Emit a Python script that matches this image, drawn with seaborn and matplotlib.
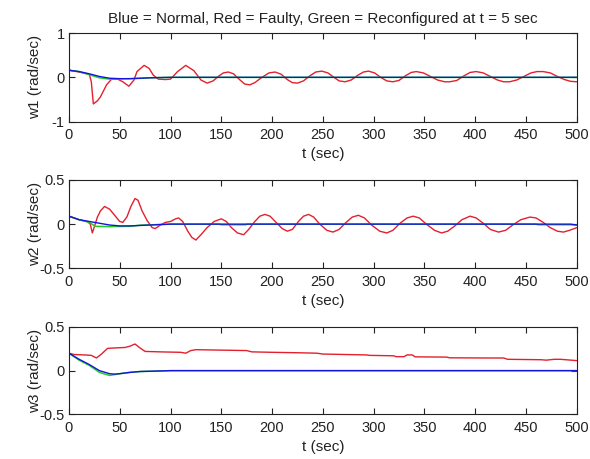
import numpy as np
import pandas as pd
import seaborn as sns
import matplotlib
matplotlib.use('Agg')
import matplotlib.pyplot as plt

# ---- w1 ----
w1_red_t = [0, 10, 20, 22, 24, 28, 31, 37, 42, 48, 53, 59, 64, 67, 74, 79, 83, 88, 95, 100,
            107, 115, 123, 130, 136, 142, 147, 152, 157, 162, 168, 173, 178, 183, 190, 197,
            203, 209, 215, 220, 225, 231, 237, 243, 249, 255, 261, 266, 272, 278, 284, 290,
            295, 301, 307, 313, 319, 325, 331, 337, 342, 349, 356, 363, 370, 375, 382, 388,
            395, 401, 408, 415, 422, 428, 434, 441, 448, 455, 461, 467, 474, 481, 488, 494, 500]
w1_red = [0.16, 0.12, 0.07, -0.1, -0.6, -0.53, -0.44, -0.17, -0.04, -0.04, -0.1, -0.2, -0.06,
          0.13, 0.27, 0.2, 0.05, -0.04, -0.05, -0.04,
          0.13, 0.27, 0.15, -0.06, -0.13, -0.08, 0.02, 0.1, 0.12, 0.08, -0.05, -0.15, -0.17,
          -0.12, 0.0, 0.1, 0.12, 0.07, -0.05, -0.12, -0.13, -0.08, 0.03, 0.12, 0.14, 0.1,
          0.0, -0.08, -0.1, -0.06, 0.04, 0.12, 0.14, 0.1, 0.0, -0.08, -0.1, -0.07, 0.03,
          0.11, 0.13, 0.1, 0.02, -0.06, -0.1, -0.1, -0.07, 0.02, 0.11, 0.13, 0.1, 0.02,
          -0.06, -0.1, -0.1, -0.06, 0.02, 0.1, 0.13, 0.13, 0.1, 0.02, -0.05, -0.09, -0.1]
w1_blue_t = [0, 10, 20, 30, 40, 50, 60, 70, 80, 100, 500]
w1_blue = [0.16, 0.13, 0.08, 0.02, -0.02, -0.03, -0.03, -0.02, -0.01, 0.0, 0.0]
w1_green_t = [0, 10, 20, 30, 40, 50, 60, 73, 80, 100, 500]
w1_green = [0.16, 0.13, 0.06, -0.01, -0.04, -0.035, -0.03, -0.02, -0.01, 0.0, 0.0]

# ---- w2 ----
w2_red_t = [0, 10, 18, 21, 23, 25, 28, 31, 35, 40, 45, 50, 53, 57, 61, 65, 68, 72, 77, 82,
            85, 90, 95, 100, 105, 108, 112, 117, 121, 125, 130, 136, 143, 150, 155, 160,
            166, 172, 177, 183, 188, 193, 198, 204, 210, 215, 220, 226, 231, 236, 241, 247,
            254, 260, 266, 272, 279, 285, 291, 298, 306, 313, 319, 326, 333, 339, 345, 352,
            360, 367, 373, 380, 387, 395, 401, 408, 415, 423, 430, 437, 445, 454, 460, 467,
            474, 481, 487, 493, 500]
w2_red = [0.09, 0.05, 0.03, 0.0, -0.1, -0.03, 0.08, 0.15, 0.2, 0.17, 0.1, 0.03, 0.02, 0.08,
          0.2, 0.29, 0.27, 0.15, 0.04, -0.04, -0.05, -0.01, 0.02, 0.03, 0.06, 0.07, 0.03,
          -0.08, -0.15, -0.18, -0.12, -0.04, 0.03, 0.06, 0.03, -0.04, -0.1, -0.12, -0.06,
          0.03, 0.09, 0.11, 0.09, 0.02, -0.05, -0.08, -0.06, 0.03, 0.09, 0.11, 0.08, 0.0,
          -0.07, -0.09, -0.06, 0.01, 0.08, 0.1, 0.07, -0.01, -0.08, -0.1, -0.07, 0.01,
          0.07, 0.09, 0.07, 0.0, -0.07, -0.1, -0.08, -0.02, 0.05, 0.09, 0.07, 0.01, -0.06,
          -0.09, -0.07, -0.01, 0.05, 0.08, 0.07, 0.02, -0.04, -0.08, -0.09, -0.07, -0.04]
w2_blue_t = [0, 10, 20, 30, 40, 50, 60, 80, 100, 494, 500]
w2_blue = [0.09, 0.05, 0.03, 0.01, -0.01, -0.02, -0.02, -0.01, 0.0, 0.0, -0.01]
w2_green_t = [0, 10, 20, 26, 40, 60, 70, 100, 148, 150, 174, 176, 460, 462, 495, 500]
w2_green = [0.09, 0.05, 0.02, -0.025, -0.028, -0.025, -0.012, 0.0, 0.0, -0.007, -0.007,
            0.0, 0.0, -0.007, -0.007, -0.01]

# ---- w3 ----
w3_red_t = [0, 5, 15, 22, 27, 32, 38, 45, 55, 60, 65, 70, 75, 90, 110, 115, 120, 125, 150,
            175, 180, 200, 225, 244, 250, 293, 296, 320, 322, 330, 333, 338, 341, 372, 375,
            410, 428, 432, 465, 470, 478, 484, 500]
w3_red = [0.2, 0.185, 0.18, 0.175, 0.145, 0.19, 0.255, 0.26, 0.265, 0.28, 0.305, 0.26, 0.22,
          0.215, 0.21, 0.2, 0.23, 0.24, 0.235, 0.23, 0.215, 0.21, 0.205, 0.2, 0.19, 0.18,
          0.175, 0.17, 0.16, 0.16, 0.18, 0.18, 0.158, 0.155, 0.147, 0.145, 0.145, 0.13,
          0.125, 0.12, 0.13, 0.13, 0.115]
w3_blue_t = [0, 10, 20, 30, 40, 45, 50, 60, 70, 85, 100, 500]
w3_blue = [0.2, 0.13, 0.07, 0.0, -0.035, -0.04, -0.035, -0.02, -0.01, -0.005, 0.0, 0.0]
w3_green_t = [0, 10, 20, 30, 40, 45, 50, 60, 70, 88, 100, 500]
w3_green = [0.2, 0.12, 0.06, -0.02, -0.055, -0.045, -0.035, -0.02, -0.01, -0.005, 0.0, 0.0]

x_ticks = [0, 50, 100, 150, 200, 250, 300, 350, 400, 450, 500]
panels = [
    ('w1 (rad/sec)', (-1, 1), [-1, 0, 1], ['-1', '0', '1'],
     (w1_red_t, w1_red), (w1_green_t, w1_green), (w1_blue_t, w1_blue)),
    ('w2 (rad/sec)', (-0.5, 0.5), [-0.5, 0, 0.5], ['-0.5', '0', '0.5'],
     (w2_red_t, w2_red), (w2_green_t, w2_green), (w2_blue_t, w2_blue)),
    ('w3 (rad/sec)', (-0.5, 0.5), [-0.5, 0, 0.5], ['-0.5', '0', '0.5'],
     (w3_red_t, w3_red), (w3_green_t, w3_green), (w3_blue_t, w3_blue)),
]
title = 'Blue = Normal, Red = Faulty, Green = Reconfigured at t = 5 sec'

sns.set_theme(style='white')
plt.rcParams['font.family'] = ['Liberation Sans', 'DejaVu Sans']
plt.rcParams.update({
    'font.size': 10,
    'xtick.direction': 'in', 'ytick.direction': 'in',
    'xtick.top': True, 'ytick.right': True,
    'xtick.bottom': True, 'ytick.left': True,
    'xtick.major.size': 4.5, 'ytick.major.size': 4.5,
    'xtick.major.width': 0.8, 'ytick.major.width': 0.8,
    'xtick.major.pad': 4.5, 'ytick.major.pad': 3,
    'xtick.labelsize': 10.5, 'ytick.labelsize': 10.5,
    'xtick.color': '#222222', 'ytick.color': '#222222',
    'axes.edgecolor': '#222222', 'axes.linewidth': 0.8,
    'text.color': '#222222', 'axes.labelcolor': '#222222',
})

fig = plt.figure(figsize=(5.9, 4.59), dpi=100)
fig.patch.set_facecolor('white')
bottoms = [0.7349, 0.4155, 0.0974]
heights = [0.1932, 0.1924, 0.1902]

for i, (ylab, ylim, yt, ytl, red, green, blue) in enumerate(panels):
    ax = fig.add_axes([0.1169, bottoms[i], 0.8605, heights[i]])
    sns.lineplot(x=red[0], y=red[1], ax=ax, color='#e3202e', linewidth=1.0)
    sns.lineplot(x=green[0], y=green[1], ax=ax, color='#22cc22', linewidth=1.1)
    sns.lineplot(x=blue[0], y=blue[1], ax=ax, color='#1414dc', linewidth=1.0)
    ax.set_xlim(0, 500)
    ax.set_ylim(*ylim)
    ax.set_xticks(x_ticks)
    ax.set_xticklabels([str(v) for v in x_ticks])
    ax.set_yticks(yt)
    ax.set_yticklabels(ytl)
    ax.set_xlabel('t (sec)', fontsize=11)
    ax.set_ylabel(ylab, fontsize=11)
    ax.xaxis.set_label_coords(0.5, -0.29)
    ax.yaxis.set_label_coords(-0.053, 0.5)
    for s in ax.spines.values():
        s.set_visible(True)
    if i == 0:
        ax.set_title(title, fontsize=11, pad=7)

fig.savefig('out.png', dpi=100, facecolor='white')
